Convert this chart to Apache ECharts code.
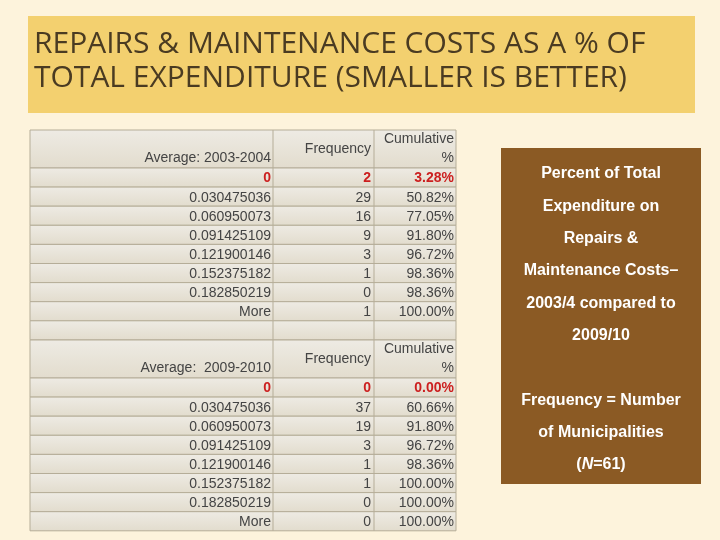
<!DOCTYPE html>
<html><head><meta charset="utf-8">
<script src="https://cdn.jsdelivr.net/npm/echarts@6/dist/echarts.min.js"></script>
<style>html,body{margin:0;padding:0;background:#fdf3dc;}#main{width:720px;height:540px;}</style>
</head><body><div id="main"></div>
<script>
const bins = ['0', '0.030475036', '0.060950073', '0.091425109', '0.121900146', '0.152375182', '0.182850219', 'More'];
const freq0304 = [2, 29, 16, 9, 3, 1, 0, 1];
const cum0304 = ['3.28%', '50.82%', '77.05%', '91.80%', '96.72%', '98.36%', '98.36%', '100.00%'];
const freq0910 = [0, 37, 19, 3, 1, 1, 0, 0];
const cum0910 = ['0.00%', '60.66%', '91.80%', '96.72%', '98.36%', '100.00%', '100.00%', '100.00%'];
const titleLines = ['REPAIRS & MAINTENANCE COSTS AS A % OF', 'TOTAL EXPENDITURE (SMALLER IS BETTER)'];
const sideLines = ['Percent of Total', 'Expenditure on', 'Repairs &', 'Maintenance Costs–', '2003/4 compared to', '2009/10', '', 'Frequency = Number', 'of Municipalities', '({i|N}=61)'];

const chart = echarts.init(document.getElementById('main'));
const els = [];
const cellFont = '14px "Liberation Sans", Arial, sans-serif';
const X0 = 30, X1 = 273, X2 = 374, X3 = 456;
const RH = 19.1;

function cellBg(y, h) {
  els.push({ type: 'rect', shape: { x: X0, y: y, width: X3 - X0, height: h },
    style: { fill: new echarts.graphic.LinearGradient(0, 0, 0, 1, [{ offset: 0, color: '#eeebe4' }, { offset: 1, color: '#e2dccd' }]), stroke: '#b5ad98', lineWidth: 1 } });
  [X1, X2].forEach(x => els.push({ type: 'line', shape: { x1: x, y1: y, x2: x, y2: y + h }, style: { stroke: '#b5ad98', lineWidth: 1 } }));
}
function txt(x, y, s, color, bold) {
  els.push({ type: 'text', x: x, y: y, style: { text: s, font: (bold ? 'bold ' : '') + cellFont, fill: color, align: 'right', verticalAlign: 'middle' } });
}
function table(top, label, freq, cum, blank) {
  const hh = 38;
  cellBg(top, hh);
  txt(X1 - 2, top + hh - 10, label, '#444');
  txt(X2 - 3, top + hh / 2, 'Frequency', '#444');
  txt(X3 - 2, top + 9, 'Cumulative', '#444');
  txt(X3 - 2, top + 28, '%', '#444');
  const n = bins.length + (blank ? 1 : 0);
  for (let i = 0; i < n; i++) {
    const y = top + hh + i * RH;
    cellBg(y, RH);
    if (i >= bins.length) continue;
    const red = i === 0, c = red ? '#cc1f1f' : '#444';
    txt(X1 - 2, y + RH / 2 + 1, bins[i], c, red);
    txt(X2 - 3, y + RH / 2 + 1, String(freq[i]), c, red);
    txt(X3 - 2, y + RH / 2 + 1, cum[i], c, red);
  }
}

// title box
els.push({ type: 'rect', shape: { x: 28, y: 16, width: 667, height: 97 }, style: { fill: '#f3d06f' } });
titleLines.forEach((t, i) => els.push({ type: 'text', x: 34, y: 44 + i * 34,
  style: { text: t, font: '30px "Liberation Sans Narrow", "Open Sans", sans-serif', fill: '#4a3b22', verticalAlign: 'middle' } }));

table(130, 'Average: 2003-2004', freq0304, cum0304, true);
table(340, 'Average:  2009-2010', freq0910, cum0910, false);

// side box
els.push({ type: 'rect', shape: { x: 501, y: 148, width: 200, height: 336 }, style: { fill: '#8b5a24' } });
sideLines.forEach((t, i) => els.push({ type: 'text', x: 601, y: 174 + i * 32.3,
  style: { text: t, font: 'bold 16px "Liberation Sans", Arial, sans-serif', fill: '#ffffff', align: 'center', verticalAlign: 'middle',
    rich: { i: { fontStyle: 'italic', fontWeight: 'bold', fontSize: 16, fontFamily: '"Liberation Sans", Arial, sans-serif', fill: '#ffffff', color: '#ffffff' } } } }));

chart.setOption({ backgroundColor: '#fdf3dc', graphic: { elements: els } });
</script></body></html>
